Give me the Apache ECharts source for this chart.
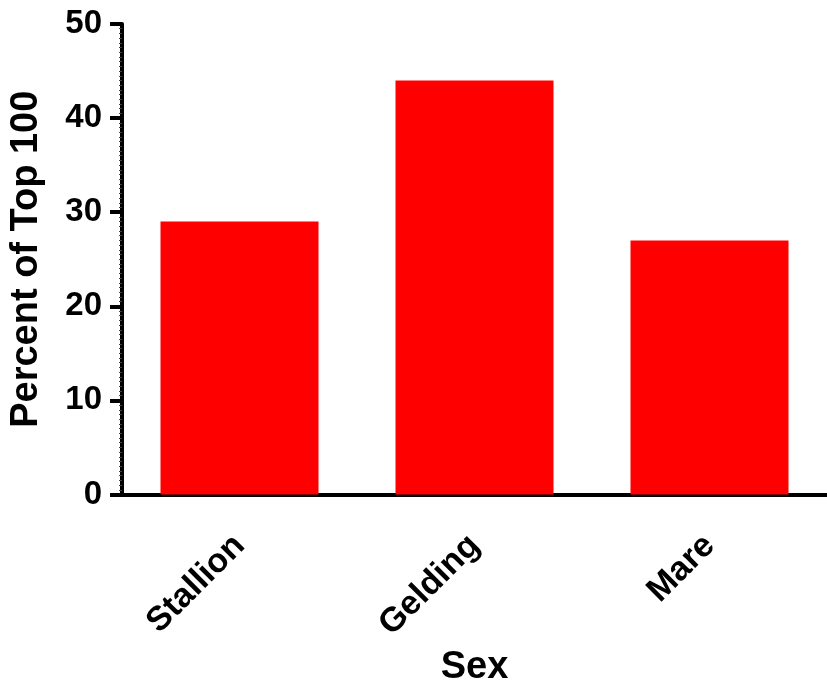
<!DOCTYPE html>
<html><head><meta charset="utf-8">
<script src="https://cdn.jsdelivr.net/npm/echarts@6/dist/echarts.min.js"></script>
<style>html,body{margin:0;padding:0;background:#fff}#c{width:827px;height:692px}</style>
</head><body><div id="c"></div>
<script>
const categories = ['Stallion', 'Gelding', 'Mare'];
const values = [29, 44, 27];
const yTicks = [0, 10, 20, 30, 40, 50];

const chart = echarts.init(document.getElementById('c'), null, {renderer: 'canvas'});
const font = '"Liberation Sans", Arial, sans-serif';
chart.setOption({
  animation: false,
  grid: {left: 122, top: 24, width: 713, height: 474, containLabel: false},
  xAxis: {
    type: 'category', data: categories,
    name: 'Sex', nameLocation: 'middle', nameGap: 154,
    nameTextStyle: {fontFamily: font, fontWeight: 'bold', fontSize: 38, color: '#000'},
    axisLine: {lineStyle: {color: '#000', width: 4}},
    axisTick: {alignWithLabel: true, length: 14, lineStyle: {color: '#000', width: 5}},
    axisLabel: {rotate: 45, margin: 46, fontFamily: font, fontWeight: 'bold', fontSize: 34, color: '#000'}
  },
  yAxis: {
    type: 'value', min: yTicks[0], max: yTicks[yTicks.length - 1], interval: 10,
    name: 'Percent of Top 100', nameLocation: 'middle', nameGap: 76,
    nameTextStyle: {fontFamily: font, fontWeight: 'bold', fontSize: 38, color: '#000'},
    axisLine: {show: true, lineStyle: {color: '#000', width: 4}},
    axisTick: {show: true, length: 12, lineStyle: {color: '#000', width: 4}},
    minorTick: {show: true, splitNumber: 20, length: 3, lineStyle: {color: '#444', width: 1}},
    axisLabel: {margin: 20, fontFamily: font, fontWeight: 'bold', fontSize: 33, color: '#000'},
    splitLine: {show: false}
  },
  series: [{
    type: 'bar', data: values, barWidth: 158,
    itemStyle: {color: '#ff0000'}
  }]
});
</script></body></html>
